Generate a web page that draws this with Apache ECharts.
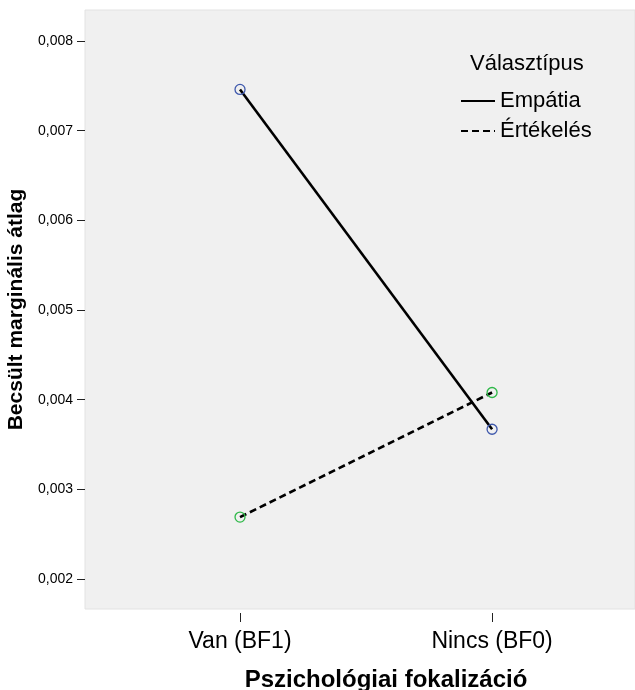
<!DOCTYPE html>
<html><head><meta charset="utf-8">
<script src="https://cdn.jsdelivr.net/npm/echarts@6/dist/echarts.min.js"></script>
<style>html,body{margin:0;padding:0;background:#fff}#c{width:635px;height:690px}</style>
</head><body><div id="c"></div>
<script>
const categories = ['Van (BF1)', 'Nincs (BF0)'];
const empatia = [0.00746, 0.00367];
const ertekeles = [0.00269, 0.00408];
const yTicks = [0.002, 0.003, 0.004, 0.005, 0.006, 0.007, 0.008];
const seriesNames = ['Empátia', 'Értékelés'];
const legendTitle = 'Választípus';
const xTitle = 'Pszichológiai fokalizáció';
const yTitle = 'Becsült marginális átlag';

const F = 'Liberation Sans, Arial, sans-serif';
const chart = echarts.init(document.getElementById('c'), null, {renderer: 'canvas'});
const toPts = arr => arr.map((v, i) => [i, v]);
chart.setOption({
  animation: false,
  title: {text: legendTitle, left: 465, top: 48, textStyle: {fontFamily: F, fontSize: 22, fontWeight: 'normal', color: '#000'}},
  legend: {
    orient: 'vertical', left: 455, top: 85, itemWidth: 34, itemHeight: 20, itemGap: 8,
    data: seriesNames,
    textStyle: {fontFamily: F, fontSize: 22, color: '#000', padding: [0, 0, 0, 0]},
    itemStyle: {opacity: 0}
  },
  grid: {left: 85, top: 10, right: 0, bottom: 81, outerBoundsMode: 'none', containLabel: false,
         show: true, backgroundColor: '#f0f0f0', borderColor: '#e2e2e2', borderWidth: 1},
  xAxis: {
    type: 'value', min: -0.615, max: 1.567, offset: 4,
    name: xTitle, nameLocation: 'middle', nameGap: 55,
    nameTextStyle: {fontFamily: F, fontSize: 24, fontWeight: 'bold', color: '#000', padding: [0, 0, 0, 52]},
    axisLine: {show: false, onZero: false}, splitLine: {show: false},
    axisTick: {show: true, length: 9, customValues: [0, 1], lineStyle: {color: '#222', width: 1}},
    axisLabel: {customValues: [0, 1], margin: 17, fontFamily: F, fontSize: 23, color: '#000', formatter: v => categories[Math.round(v)]}
  },
  yAxis: {
    type: 'value', min: 0.001665, max: 0.008346,
    name: yTitle, nameLocation: 'middle', nameGap: 48, nameRotate: 90,
    nameTextStyle: {fontFamily: F, fontSize: 21, fontWeight: 'bold', color: '#000'},
    axisLine: {show: false, onZero: false}, splitLine: {show: false},
    axisTick: {show: true, length: 8, customValues: yTicks, lineStyle: {color: '#222', width: 1}},
    axisLabel: {customValues: yTicks, margin: 12, fontFamily: F, fontSize: 14, color: '#000', formatter: v => v.toFixed(3).replace('.', ',')}
  },
  series: [
    {name: seriesNames[0], type: 'line', data: toPts(empatia), symbol: 'circle', symbolSize: 10,
     lineStyle: {color: '#000', width: 2.6, type: 'solid'},
     itemStyle: {color: 'transparent', borderColor: '#3E58AC', borderWidth: 1.3}, z: 2},
    {name: seriesNames[1], type: 'line', data: toPts(ertekeles), symbol: 'circle', symbolSize: 10,
     lineStyle: {color: '#000', width: 2.6, type: [7, 4]},
     itemStyle: {color: 'transparent', borderColor: '#2EB848', borderWidth: 1.3}, z: 2}
  ]
});
</script></body></html>
